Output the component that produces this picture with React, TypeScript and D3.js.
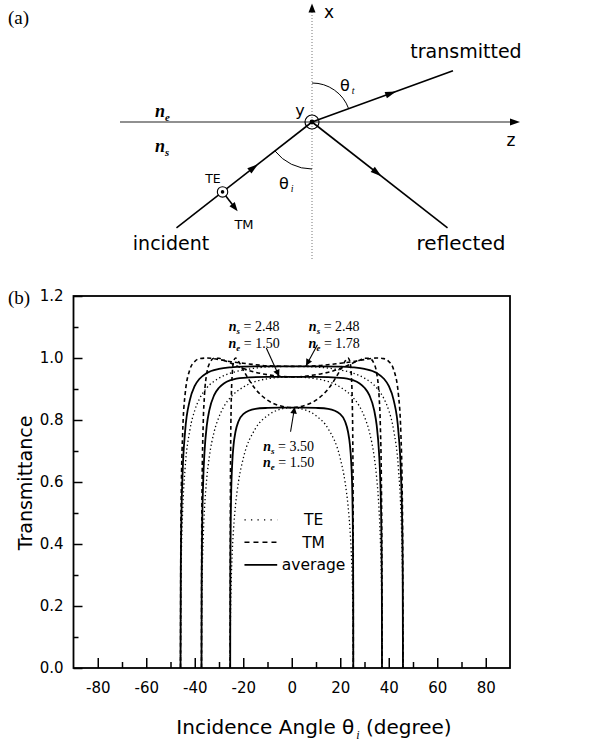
import React, { useEffect, useRef } from "react";
import * as d3 from "d3";

// Transmittance. Only theta_i >= 0 is listed,
// the curves are symmetric and get mirrored for theta_i < 0.

// ns = 2.48, ne = 1.50
const angles1 = [0, 10, 20, 25, 28, 30, 32, 34, 35, 36, 36.5, 37, 37.15, 37.22];
const te1 = [0.939, 0.933, 0.906, 0.875, 0.843, 0.81, 0.762, 0.681, 0.615, 0.51, 0.423, 0.261, 0.16, 0];
const tm1 = [0.939, 0.946, 0.966, 0.983, 0.993, 0.999, 0.999, 0.981, 0.952, 0.878, 0.791, 0.568, 0.381, 0];
const avg1 = [0.939, 0.939, 0.936, 0.929, 0.918, 0.904, 0.88, 0.831, 0.784, 0.694, 0.607, 0.415, 0.27, 0];

// ns = 2.48, ne = 1.78
const angles2 = [0, 10, 20, 25, 30, 35, 38, 40, 42, 44, 45, 45.5, 45.75, 45.87];
const te2 = [0.973, 0.971, 0.961, 0.952, 0.935, 0.904, 0.869, 0.831, 0.768, 0.642, 0.505, 0.369, 0.23, 0];
const tm2 = [0.973, 0.975, 0.983, 0.988, 0.995, 1.0, 0.998, 0.989, 0.963, 0.881, 0.755, 0.595, 0.399, 0];
const avg2 = [0.973, 0.973, 0.972, 0.97, 0.965, 0.952, 0.933, 0.91, 0.865, 0.761, 0.63, 0.482, 0.314, 0];

// ns = 3.50, ne = 1.50
const angles3 = [0, 5, 10, 15, 20, 22, 23.2, 24, 24.5, 25, 25.2, 25.3, 25.35, 25.38];
const te3 = [0.84, 0.834, 0.814, 0.772, 0.676, 0.599, 0.524, 0.449, 0.38, 0.27, 0.194, 0.133, 0.081, 0];
const tm3 = [0.84, 0.846, 0.864, 0.9, 0.961, 0.99, 1.0, 0.988, 0.954, 0.839, 0.702, 0.544, 0.368, 0];
const avg3 = [0.84, 0.84, 0.839, 0.836, 0.819, 0.795, 0.762, 0.719, 0.667, 0.555, 0.448, 0.339, 0.224, 0];

const xMajor = [-80, -60, -40, -20, 0, 20, 40, 60, 80];
const xMinor = [-70, -50, -30, -10, 10, 30, 50, 70];
const yMajor = [0, 0.2, 0.4, 0.6, 0.8, 1.0, 1.2];
const yMinor = [0.1, 0.3, 0.5, 0.7, 0.9, 1.1];

const legendItems = ["TE", "TM", "average"];

const SANS = "'DejaVu Sans', sans-serif";
const SERIF = "'Liberation Serif', 'DejaVu Serif', serif";

const styles = {
  TE: { width: 1.3, dash: "1.3,2.6" },
  TM: { width: 1.6, dash: "4,3" },
  average: { width: 1.8, dash: null },
};

function mirror(angles, values) {
  const pts = [];
  for (let i = angles.length - 1; i > 0; i--) pts.push([-angles[i], values[i]]);
  for (let i = 0; i < angles.length; i++) pts.push([angles[i], values[i]]);
  return pts;
}

const App = () => {
  const svgRef = useRef(null);

  useEffect(() => {
    const svg = d3.select(svgRef.current);
    svg.selectAll("*").remove();

    // ---------- panel (a): sketch of the geometry ----------
    const a = svg.append("g");
    const O = [312, 122];
    const rad = Math.PI / 180;
    const thetaI = 52 * rad;
    const thetaT = 70 * rad;
    const incLen = 172;
    const trLen = 150;

    const incStart = [O[0] - incLen * Math.sin(thetaI), O[1] + incLen * Math.cos(thetaI)];
    const refEnd = [O[0] + incLen * Math.sin(thetaI), O[1] + incLen * Math.cos(thetaI)];
    const trEnd = [O[0] + trLen * Math.sin(thetaT), O[1] - trLen * Math.cos(thetaT)];

    const arrowHead = (g, p, u, len = 10, hw = 3.4) => {
      const n = [-u[1], u[0]];
      const tip = [p[0] + u[0] * len * 0.5, p[1] + u[1] * len * 0.5];
      const b = [p[0] - u[0] * len * 0.5, p[1] - u[1] * len * 0.5];
      g.append("path")
        .attr("d", `M${tip}L${b[0] + n[0] * hw},${b[1] + n[1] * hw}L${b[0] - n[0] * hw},${b[1] - n[1] * hw}Z`)
        .attr("fill", "#000");
    };
    const along = (p0, p1, t) => [p0[0] + (p1[0] - p0[0]) * t, p0[1] + (p1[1] - p0[1]) * t];
    const unit = (p0, p1) => {
      const dx = p1[0] - p0[0], dy = p1[1] - p0[1];
      const l = Math.hypot(dx, dy);
      return [dx / l, dy / l];
    };

    // x axis (vertical, dotted)
    a.append("line")
      .attr("x1", O[0]).attr("x2", O[0]).attr("y1", 12).attr("y2", 260)
      .attr("stroke", "#777").attr("stroke-width", 1).attr("stroke-dasharray", "1,2");
    arrowHead(a, [O[0], 8], [0, -1], 9, 3.5);

    // interface / z axis
    a.append("line")
      .attr("x1", 120).attr("x2", 512).attr("y1", O[1]).attr("y2", O[1])
      .attr("stroke", "#222").attr("stroke-width", 1.1);
    arrowHead(a, [515, O[1]], [1, 0], 10, 3.6);

    // rays
    const ray = (p0, p1) =>
      a.append("line")
        .attr("x1", p0[0]).attr("y1", p0[1]).attr("x2", p1[0]).attr("y2", p1[1])
        .attr("stroke", "#000").attr("stroke-width", 1.6);
    ray(incStart, O);
    ray(O, refEnd);
    ray(O, trEnd);
    arrowHead(a, along(incStart, O, 0.57), unit(incStart, O), 11, 3.4);
    arrowHead(a, along(O, refEnd, 0.48), unit(O, refEnd), 11, 3.4);
    arrowHead(a, along(O, trEnd, 0.56), unit(O, trEnd), 11, 3.4);

    // y axis out of page at the origin
    a.append("circle").attr("cx", O[0]).attr("cy", O[1]).attr("r", 7)
      .attr("fill", "none").attr("stroke", "#000").attr("stroke-width", 1.2);
    a.append("circle").attr("cx", O[0]).attr("cy", O[1]).attr("r", 2.4).attr("fill", "#000");

    // TE (out of page) and TM polarisation on the incident ray
    const pol = along(incStart, O, 0.34);
    a.append("circle").attr("cx", pol[0]).attr("cy", pol[1]).attr("r", 5.2)
      .attr("fill", "#fff").attr("stroke", "#000").attr("stroke-width", 1.1);
    a.append("circle").attr("cx", pol[0]).attr("cy", pol[1]).attr("r", 1.8).attr("fill", "#000");
    const perp = [Math.cos(thetaI), Math.sin(thetaI)];
    const tmEnd = [pol[0] + perp[0] * 24, pol[1] + perp[1] * 24];
    a.append("line")
      .attr("x1", pol[0] + perp[0] * 5).attr("y1", pol[1] + perp[1] * 5)
      .attr("x2", tmEnd[0] - perp[0] * 4).attr("y2", tmEnd[1] - perp[1] * 4)
      .attr("stroke", "#000").attr("stroke-width", 1.6);
    arrowHead(a, [tmEnd[0] - perp[0] * 4, tmEnd[1] - perp[1] * 4], perp, 9, 3.4);

    // angle arcs
    const arcT = d3.path();
    arcT.arc(O[0], O[1], 39, -Math.PI / 2, -Math.PI / 2 + thetaT);
    a.append("path").attr("d", arcT.toString()).attr("fill", "none").attr("stroke", "#000").attr("stroke-width", 1);
    const arcI = d3.path();
    arcI.arc(O[0], O[1], 47, Math.PI / 2, Math.PI / 2 + thetaI);
    a.append("path").attr("d", arcI.toString()).attr("fill", "none").attr("stroke", "#000").attr("stroke-width", 1);

    const label = (g, txt, x, y, size, anchor = "start", family = SANS) =>
      g.append("text").attr("x", x).attr("y", y).attr("font-family", family)
        .attr("font-size", size).attr("text-anchor", anchor).attr("fill", "#000").text(txt);

    label(a, "(a)", 8, 24, 19, "start", SERIF);
    label(a, "x", 329, 18, 17, "middle");
    label(a, "z", 511, 146, 17, "middle");
    label(a, "y", 300, 116, 16, "middle");
    label(a, "transmitted", 466, 58, 19, "middle");
    label(a, "reflected", 461, 250, 20, "middle");
    label(a, "incident", 171, 250, 19, "middle");
    label(a, "TE", 213, 183, 12.5, "middle");
    label(a, "TM", 244, 229, 13, "middle");

    const sub = (g, base, s, x, y, size, bold, family) => {
      const t = g.append("text").attr("x", x).attr("y", y).attr("font-family", family)
        .attr("font-size", size).attr("fill", "#000");
      t.append("tspan").attr("font-style", "italic").attr("font-weight", bold ? "bold" : "normal").text(base);
      t.append("tspan").attr("font-style", "italic").attr("font-weight", bold ? "bold" : "normal")
        .attr("font-size", size * 0.6).attr("dy", size * 0.22).text(s);
      return t;
    };
    sub(a, "n", "e", 155, 117, 18, true, SERIF);
    sub(a, "n", "s", 155, 152, 18, true, SERIF);

    const theta = (g, s, x, y) => {
      const t = g.append("text").attr("x", x).attr("y", y).attr("font-family", SANS)
        .attr("font-size", 16).attr("fill", "#000");
      t.append("tspan").text("θ");
      t.append("tspan").attr("font-style", "italic").attr("font-family", SERIF)
        .attr("font-size", 10).attr("dx", 2).attr("dy", 3).text(s);
    };
    theta(a, "t", 340, 91);
    theta(a, "i", 279, 189);

    // ---------- panel (b): transmittance ----------
    const x = d3.scaleLinear().domain([-90, 90]).range([73.5, 510]);
    const y = d3.scaleLinear().domain([0, 1.2]).range([668, 296]);
    const b = svg.append("g");

    label(b, "(b)", 8, 304, 19, "start", SERIF);

    const line = d3.line().x((d) => x(d[0])).y((d) => y(d[1])).curve(d3.curveMonotoneX);

    const series = [
      { angles: angles1, TE: te1, TM: tm1, average: avg1 },
      { angles: angles2, TE: te2, TM: tm2, average: avg2 },
      { angles: angles3, TE: te3, TM: tm3, average: avg3 },
    ];
    const curves = b.append("g").attr("fill", "none").attr("stroke", "#000");
    series.forEach((s) => {
      ["TE", "TM", "average"].forEach((k) => {
        const p = curves.append("path").datum(mirror(s.angles, s[k]))
          .attr("d", line).attr("stroke-width", styles[k].width);
        if (styles[k].dash) p.attr("stroke-dasharray", styles[k].dash);
      });
    });

    // axes, ticks pointing inward
    const styleAxis = (g) => {
      g.select(".domain").remove();
      g.selectAll(".tick line").attr("stroke", "#000").attr("stroke-width", 1.5);
      g.selectAll(".tick text").attr("font-family", SANS).attr("font-size", 15).attr("fill", "#000");
    };
    b.append("g").attr("transform", `translate(0,${y(0)})`)
      .call(d3.axisBottom(x).tickValues(xMajor).tickSize(-10).tickPadding(14).tickFormat((d) => String(d)))
      .call(styleAxis);
    b.append("g").attr("transform", `translate(0,${y(0)})`)
      .call(d3.axisBottom(x).tickValues(xMinor).tickSize(-6).tickFormat(() => ""))
      .call(styleAxis);
    b.append("g").attr("transform", `translate(${x(-90)},0)`)
      .call(d3.axisLeft(y).tickValues(yMajor).tickSize(-9).tickPadding(10).tickFormat(d3.format(".1f")))
      .call(styleAxis);
    b.append("g").attr("transform", `translate(${x(-90)},0)`)
      .call(d3.axisLeft(y).tickValues(yMinor).tickSize(-5).tickFormat(() => ""))
      .call(styleAxis);

    b.append("rect")
      .attr("x", x(-90)).attr("y", y(1.2))
      .attr("width", x(90) - x(-90)).attr("height", y(0) - y(1.2))
      .attr("fill", "none").attr("stroke", "#000").attr("stroke-width", 1.8);

    // axis titles
    const xt = b.append("text").attr("x", 314).attr("y", 734).attr("text-anchor", "middle")
      .attr("font-family", SANS).attr("font-size", 20).attr("fill", "#000");
    xt.append("tspan").text("Incidence Angle  θ");
    xt.append("tspan").attr("font-size", 12).attr("font-style", "italic").attr("font-family", SERIF)
      .attr("dx", 2).attr("dy", 5).text("i");
    xt.append("tspan").attr("dy", -5).text("  (degree)");

    b.append("text")
      .attr("transform", `translate(32,${y(0.6) + 1}) rotate(-90)`)
      .attr("text-anchor", "middle").attr("font-family", SANS).attr("font-size", 19)
      .attr("fill", "#000").text("Transmittance");

    // legend
    const leg = b.append("g");
    legendItems.forEach((k, i) => {
      const ly = y(0.478) + i * 22.5;
      const l = leg.append("line").attr("x1", x(-19.5)).attr("x2", x(-6)).attr("y1", ly).attr("y2", ly)
        .attr("stroke", "#000").attr("stroke-width", styles[k].width);
      if (k === "TE") l.attr("stroke-dasharray", "1.3,5.2");
      if (k === "TM") l.attr("stroke-dasharray", "5,4");
      label(leg, k, x(9), ly + 5.5, 15.5, "middle");
    });

    // annotations
    svg.append("defs").append("marker")
      .attr("id", "tip").attr("viewBox", "0 0 10 10").attr("refX", 10).attr("refY", 5)
      .attr("markerWidth", 7).attr("markerHeight", 6).attr("orient", "auto")
      .append("path").attr("d", "M0,0L10,5L0,10Z").attr("fill", "#000");

    const note = (ns, ne, cx, y0) => {
      [["s", ns], ["e", ne]].forEach(([s, v], i) => {
        const t = b.append("text").attr("x", x(cx)).attr("y", y0 + i * 16.5).attr("text-anchor", "middle")
          .attr("font-family", SERIF).attr("font-size", 14).attr("fill", "#000");
        t.append("tspan").attr("font-style", "italic").attr("font-weight", "bold").text("n");
        t.append("tspan").attr("font-style", "italic").attr("font-weight", "bold").attr("font-size", 9)
          .attr("dy", 3).text(s);
        t.append("tspan").attr("dy", -3).text(` = ${v}`);
      });
    };
    const pointer = (x0, y0, x1, y1) =>
      b.append("line").attr("x1", x(x0)).attr("y1", y(y0)).attr("x2", x(x1)).attr("y2", y(y1))
        .attr("stroke", "#000").attr("stroke-width", 1.1).attr("marker-end", "url(#tip)");

    note("2.48", "1.50", -15.5, 331);
    note("2.48", "1.78", 17.5, 331);
    note("3.50", "1.50", -1.3, 450.5);
    pointer(-10.5, 1.032, -5.2, 0.941);
    pointer(10.6, 1.043, 5.9, 0.975);
    pointer(-0.5, 0.762, 1.2, 0.842);
  }, []);

  return (
    <svg
      ref={svgRef}
      width={614}
      height={742}
      style={{ position: "absolute", left: 0, top: 0, background: "#fff" }}
    ></svg>
  );
};

export default App;
